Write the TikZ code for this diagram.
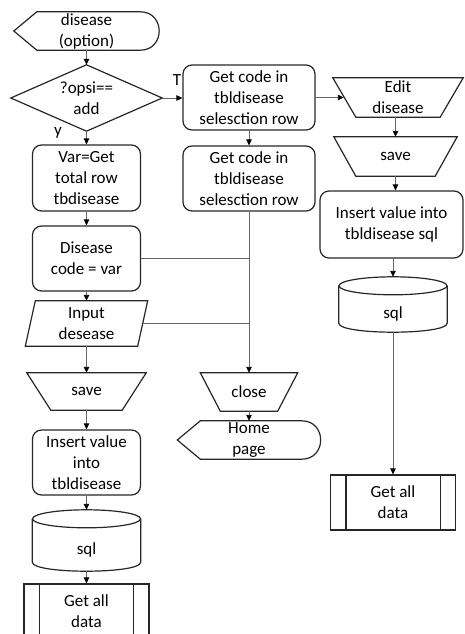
\documentclass[tikz,border=0pt]{standalone}
\usepackage{fontspec}
\setmainfont{Carlito}
\usetikzlibrary{arrows.meta,calc}

\tikzset{
	every node/.style={font=\fontsize{17}{21}\selectfont,align=center,inner sep=0pt},
	outline/.style={line width=1.2pt,draw=black!85},
	box/.style={outline,rounded corners=9pt,minimum width=108pt,minimum height=66pt},
	flow/.style={line width=0.9pt,black!60,-{Triangle[length=6pt,width=5.5pt,color=black]}},
	link/.style={line width=0.9pt,black!60}
}

\begin{document}
\begin{tikzpicture}[x=1pt,y=-1pt]
	\useasboundingbox (0,0) rectangle (464,634);
	\clip (0,0) rectangle (464,634);
	% left column
	\node[minimum width=145pt,minimum height=38pt] (start) at (86.5,31) {disease\\(option)};
	\node[minimum width=151pt,minimum height=66pt] (dec) at (86.5,98) {?opsi==\\add};
	\node[box] (getrow) at (86.5,178) {Var=Get\\total row\\tbdisease};
	\node[box,minimum height=65pt] (code) at (86.5,258.5) {Disease\\code = var};
	\node[minimum width=122pt,minimum height=45pt] (input) at (86.5,323.5) {Input\\desease};
	\node[minimum width=119pt,minimum height=37pt] (save) at (86.5,391.5) {save};
	\node[box,minimum height=65pt] (insert) at (86.5,462.5) {Insert value\\into\\tbldisease};
	\node[minimum width=108pt,minimum height=43pt] (sql) at (86.5,549.5) {sql};
	\node[outline,minimum width=125pt,minimum height=55pt] (getall) at (86.5,611.5) {Get all\\data};
	% middle column
	\node[box,minimum width=132pt,minimum height=65pt] (getcode) at (249,97.5) {Get code in\\tbldisease\\selesction row};
	\node[box,minimum width=132pt,minimum height=65pt] (getcode2) at (249,178.5) {Get code in\\tbldisease\\selesction row};
	\node[minimum width=97pt,minimum height=38pt] (close) at (249,392) {close};
	\node[minimum width=143pt,minimum height=38pt] (home) at (249,440) {Home\\page};
	% right column
	\node[minimum width=130pt,minimum height=39pt] (edit) at (398,97.5) {Edit\\disease};
	\node[minimum width=123pt,minimum height=39pt] (save2) at (395.5,156.5) {save};
	\node[box,minimum width=143pt,minimum height=67pt] (insert2) at (391.5,224.5) {Insert value into\\tbldisease sql};
	\node[minimum width=108pt,minimum height=37pt] (sql2) at (393,313.5) {sql};
	\node[outline,minimum width=125pt,minimum height=55pt] (getall2) at (393,502.5) {Get all\\data};
	% branch labels
	\node (lblT) at (177,80) {T};
	\node (lblY) at (58,133) {y};

	% outlines
	\foreach \n in {start,home}
		\draw[outline] (\n.west) -- ([xshift=23pt]\n.north west) -- ([xshift=-19pt]\n.north east)
			.. controls ([xshift=6.3pt]\n.north east) and ([xshift=6.3pt]\n.south east) .. ([xshift=-19pt]\n.south east)
			-- ([xshift=23pt]\n.south west) -- cycle;
	\draw[outline] (dec.west) -- (dec.north) -- (dec.east) -- (dec.south) -- cycle;
	\draw[outline] ([xshift=10pt]input.north west) -- (input.north east) -- ([xshift=-10pt]input.south east) -- (input.south west) -- cycle;
	\foreach \n/\d in {save/24,save2/22,edit/23,close/20}
		\draw[outline] (\n.north west) -- (\n.north east) -- ([xshift=-\d pt]\n.south east) -- ([xshift=\d pt]\n.south west) -- cycle;
	\foreach \n in {sql,sql2}{
		\draw[outline] ([yshift=9pt]\n.north) ellipse [x radius=54pt,y radius=9pt];
		\draw[outline] ([yshift=9pt]\n.north west) -- ([yshift=9pt]\n.south west)
			.. controls ([yshift=-3pt]\n.south west) and ([yshift=-3pt]\n.south east) .. ([yshift=9pt]\n.south east)
			-- ([yshift=9pt]\n.north east);
	}
	\foreach \n in {getall,getall2}
		\draw[outline] ([xshift=16pt]\n.north west) -- ([xshift=16pt]\n.south west)
			([xshift=-16pt]\n.north east) -- ([xshift=-16pt]\n.south east);

	% connectors
	\draw[flow] (start) -- (dec);
	\draw[flow] (dec) -- (getrow);
	\draw[flow] (getrow) -- (code);
	\draw[flow] (code) -- (input);
	\draw[flow] (input) -- (save);
	\draw[flow] (save) -- (insert);
	\draw[flow] (insert) -- ([yshift=18pt]sql.north);
	\draw[flow] (sql) -- (getall);
	\draw[flow] (dec.east) -- (dec.east -| getcode.west);
	\draw[flow] (getcode) -- (getcode2);
	\draw[flow] (getcode.east) -- ([xshift=11pt]edit.west);
	\draw[flow] (save2.north |- edit.south) -- (save2.north);
	\draw[flow] (save2.south) -- (save2.south |- insert2.north);
	\draw[flow] (insert2.south -| sql2) -- ([yshift=18pt]sql2.north);
	\draw[flow] (sql2) -- (getall2);
	\draw[link] (code.east) -- (code.east -| getcode2.south);
	\draw[link] ([xshift=-5pt]input.east) -- (input.east -| getcode2.south);
	\draw[flow] (getcode2.south) -- (getcode2.south |- close.north);
	\draw[flow] (close) -- (home);
\end{tikzpicture}
\end{document}
